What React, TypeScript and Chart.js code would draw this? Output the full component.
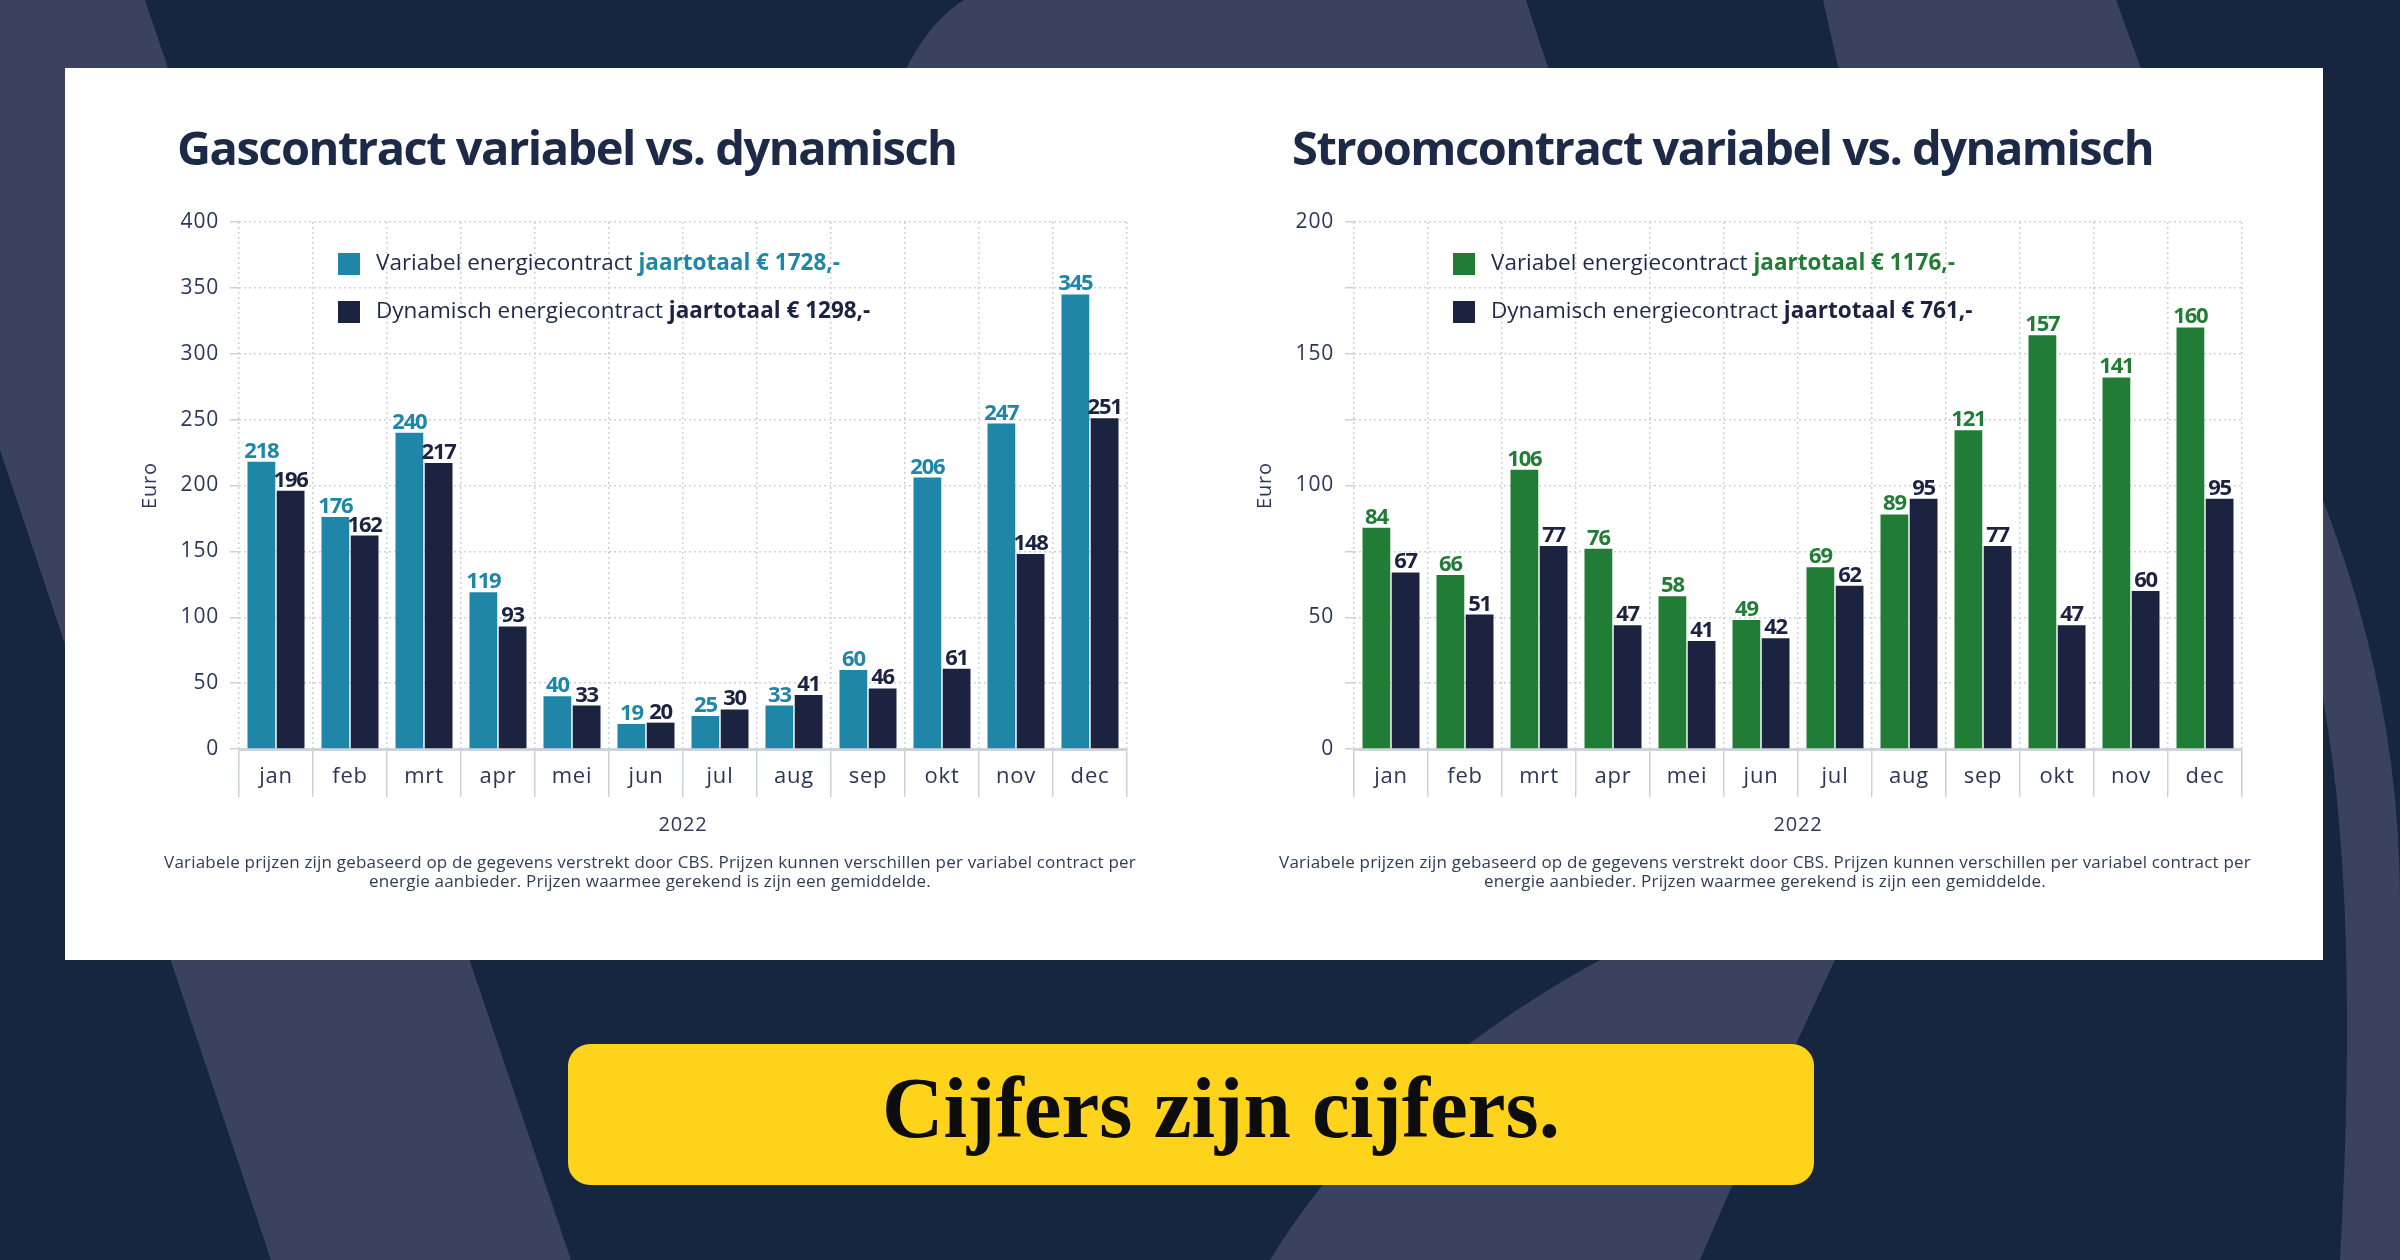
import React, { useEffect, useRef } from "react";
import { Chart, registerables } from "chart.js";

Chart.register(...registerables);

// ---------- DATA ----------
const months = ["jan", "feb", "mrt", "apr", "mei", "jun", "jul", "aug", "sep", "okt", "nov", "dec"];
const gasVariabel = [218, 176, 240, 119, 40, 19, 25, 33, 60, 206, 247, 345];
const gasDynamisch = [196, 162, 217, 93, 33, 20, 30, 41, 46, 61, 148, 251];
const stroomVariabel = [84, 66, 106, 76, 58, 49, 69, 89, 121, 157, 141, 160];
const stroomDynamisch = [67, 51, 77, 47, 41, 42, 62, 95, 77, 47, 60, 95];
const gasAxis = [0, 400, 50, 50]; // min, max, grid step, label step
const stroomAxis = [0, 200, 25, 50];
const seriesNames = ["Variabel energiecontract", "Dynamisch energiecontract"];
const totalPrefix = "jaartotaal €";
const gasTitle = "Gascontract variabel vs. dynamisch";
const stroomTitle = "Stroomcontract variabel vs. dynamisch";
const yearLabel = "2022";
const yAxisLabel = "Euro";
const footnoteLines = [
  "Variabele prijzen zijn gebaseerd op de gegevens verstrekt door CBS. Prijzen kunnen verschillen per variabel contract per",
  "energie aanbieder. Prijzen waarmee gerekend is zijn een gemiddelde.",
];
const bannerText = "Cijfers zijn cijfers.";

// ---------- STYLE ----------
const FONT = '"Open Sans", "Noto Sans", sans-serif';
const TEXT_DARK = "#1d2a47";
const AXIS_TEXT = "#2b3756";
const NAVY_BAR = "#1b2340";
const TEAL = "#1f86a7";
const GREEN = "#217c35";
const GRID = "#cdd1d8";
const BG = "#16263f";
const BAND = "#3a4260";

const sum = (a: number[]) => a.reduce((s, v) => s + v, 0);

const spacingPlugin = {
  id: "spacing",
  beforeDraw(chart: any) {
    (chart.ctx as any).letterSpacing = "0.8px";
  },
};

const valueLabelPlugin = {
  id: "valueLabels",
  afterDatasetsDraw(chart: any) {
    const ctx = chart.ctx;
    chart.data.datasets.forEach((ds: any, i: number) => {
      const meta = chart.getDatasetMeta(i);
      meta.data.forEach((bar: any, j: number) => {
        ctx.save();
        ctx.font = `700 22px ${FONT}`;
        (ctx as any).letterSpacing = "-1.2px";
        ctx.fillStyle = ds.labelColor;
        ctx.textAlign = "center";
        ctx.textBaseline = "alphabetic";
        ctx.fillText(String(ds.data[j]), bar.x, bar.y - 4);
        ctx.restore();
      });
    });
  },
};

const headerPlugin = {
  id: "header",
  afterDraw(chart: any, _args: any, opts: any) {
    const { ctx, chartArea } = chart;
    ctx.save();
    // title
    ctx.fillStyle = TEXT_DARK;
    ctx.font = `700 47px ${FONT}`;
    (ctx as any).letterSpacing = "-1.5px";
    ctx.textAlign = "left";
    ctx.textBaseline = "alphabetic";
    ctx.fillText(opts.title, chartArea.left - 62, chartArea.top - 57);
    // legend
    (ctx as any).letterSpacing = "0px";
    opts.items.forEach((it: any, i: number) => {
      const cy = chartArea.top + 42 + i * 48;
      ctx.fillStyle = it.color;
      ctx.fillRect(chartArea.left + 99, cy - 11, 22, 22);
      const x0 = chartArea.left + 137;
      ctx.textBaseline = "middle";
      ctx.font = `500 22.5px ${FONT}`;
      ctx.fillStyle = TEXT_DARK;
      const first = it.name + " ";
      ctx.fillText(first, x0, cy);
      const w = ctx.measureText(first).width;
      ctx.font = `700 22.5px ${FONT}`;
      ctx.fillStyle = it.totalColor;
      ctx.fillText(`${totalPrefix} ${it.total},-`, x0 + w, cy);
    });
    // footnote
    ctx.font = `500 17px ${FONT}`;
    (ctx as any).letterSpacing = "0.2px";
    ctx.fillStyle = "#2f3c58";
    ctx.textAlign = "center";
    ctx.textBaseline = "middle";
    opts.footnote.forEach((line: string, i: number) => {
      ctx.fillText(line, chartArea.left + 411, chartArea.bottom + 114 + i * 19);
    });
    ctx.restore();
  },
};

type PanelProps = {
  left: number;
  title: string;
  variabel: number[];
  dynamisch: number[];
  color: string;
  axis: number[];
};

function ChartPanel({ left, title, variabel, dynamisch, color, axis }: PanelProps) {
  const ref = useRef<HTMLCanvasElement | null>(null);
  useEffect(() => {
    if (!ref.current) return;
    const [yMin, yMax, yStep, yLabelStep] = axis;
    const chart = new Chart(ref.current, {
      type: "bar",
      data: {
        labels: months,
        datasets: [
          {
            label: seriesNames[0],
            data: variabel,
            backgroundColor: color,
            labelColor: color,
            categoryPercentage: 0.79,
            barPercentage: 0.95,
          } as any,
          {
            label: seriesNames[1],
            data: dynamisch,
            backgroundColor: NAVY_BAR,
            labelColor: NAVY_BAR,
            categoryPercentage: 0.79,
            barPercentage: 0.95,
          } as any,
        ],
      },
      options: {
        animation: false,
        responsive: false,
        maintainAspectRatio: false,
        devicePixelRatio: 1,
        layout: { padding: { left: 0, right: 43, top: 122, bottom: 63 } },
        plugins: {
          legend: { display: false },
          title: { display: false },
          tooltip: { enabled: false },
          header: {
            title,
            footnote: footnoteLines,
            items: [
              { name: seriesNames[0], color, totalColor: color, total: sum(variabel) },
              { name: seriesNames[1], color: NAVY_BAR, totalColor: NAVY_BAR, total: sum(dynamisch) },
            ],
          },
        } as any,
        scales: {
          x: {
            offset: true,
            grid: { display: true, color: GRID, lineWidth: 1.5, tickLength: 48, offset: true },
            border: { display: true, color: "#cfd4da", width: 3, dash: [2, 3] },
            ticks: { padding: -33, color: AXIS_TEXT, font: { family: FONT, size: 22, weight: "500" } },
            title: {
              display: true,
              text: yearLabel,
              color: AXIS_TEXT,
              font: { family: FONT, size: 20, weight: "500" },
              padding: { top: 25, bottom: 0 },
            },
            afterFit: (s: any) => {
              s.height = 88;
            },
          },
          y: {
            min: yMin,
            max: yMax,
            ticks: {
              stepSize: yStep,
              padding: 11,
              color: AXIS_TEXT,
              font: { family: FONT, size: 21, weight: "500" },
              callback: (v: any) => (Number(v) % yLabelStep === 0 ? String(v) : ""),
            },
            grid: { color: GRID, lineWidth: 1.5, tickLength: 9 },
            border: { display: false, dash: [2, 3] },
            title: {
              display: true,
              text: yAxisLabel,
              color: AXIS_TEXT,
              font: { family: FONT, size: 20, weight: "500" },
              padding: { top: 8, bottom: 0 },
            },
            afterFit: (s: any) => {
              s.width = 109;
            },
          },
        },
      } as any,
      plugins: [spacingPlugin, valueLabelPlugin, headerPlugin] as any,
    });
    return () => chart.destroy();
  }, []);
  return (
    <canvas
      ref={ref}
      width={1040}
      height={800}
      style={{ position: "absolute", left, top: 100, width: 1040, height: 800 }}
    />
  );
}

export default function App() {
  return (
    <div
      style={{
        position: "absolute",
        left: 0,
        top: 0,
        width: 2400,
        height: 1260,
        overflow: "hidden",
        background: BG,
      }}
    >
      <svg width={2400} height={1260} style={{ position: "absolute", left: 0, top: 0 }}>
        <rect x={0} y={0} width={2400} height={1260} fill={BG} />
        <polygon points="0,0 145,0 571,1260 271,1260 0,450" fill={BAND} />
        <path d="M 964 0 Q 915 30 885 120 L 1565 120 L 1526 0 Z" fill={BAND} />
        <polygon points="1823,0 2116,0 2160,120 1850,120" fill={BAND} />
        <path d="M 1600 960 L 1835 960 Q 1760 1120 1700 1260 L 1270 1260 Q 1380 1080 1600 960 Z" fill={BAND} />
        <path d="M 2323 500 Q 2400 700 2400 900 L 2400 1260 L 2340 1260 Q 2360 900 2323 700 Z" fill={BAND} />
      </svg>
      <div
        style={{ position: "absolute", left: 65, top: 68, width: 2258, height: 892, background: "#ffffff" }}
      />
      <ChartPanel left={130} title={gasTitle} variabel={gasVariabel} dynamisch={gasDynamisch} color={TEAL} axis={gasAxis} />
      <ChartPanel
        left={1245}
        title={stroomTitle}
        variabel={stroomVariabel}
        dynamisch={stroomDynamisch}
        color={GREEN}
        axis={stroomAxis}
      />
      <div
        style={{
          position: "absolute",
          left: 568,
          top: 1044,
          width: 1246,
          height: 141,
          borderRadius: 22,
          background: "#fdd31b",
        }}
      >
        <svg width={1246} height={141} style={{ position: "absolute", left: 0, top: 0 }}>
          <text
            x={314}
            y={93}
            textLength={678}
            lengthAdjust="spacingAndGlyphs"
            fontFamily='"Liberation Serif", serif'
            fontWeight={700}
            fontSize={86}
            fill="#0d0d0d"
          >
            {bannerText}
          </text>
        </svg>
      </div>
    </div>
  );
}
